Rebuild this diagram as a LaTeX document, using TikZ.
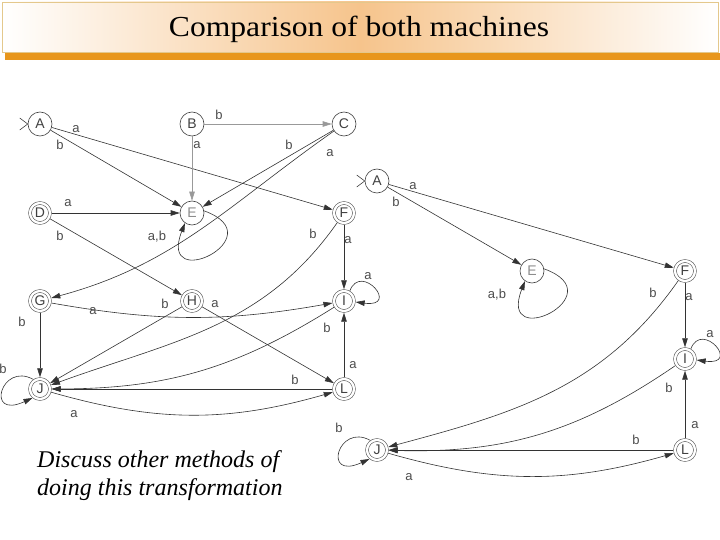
\documentclass[tikz,border=0pt]{standalone}
\usepackage{fontspec}
\setmainfont{Liberation Serif}
\setsansfont{Liberation Sans}
\usetikzlibrary{arrows.meta}
\definecolor{tbar}{RGB}{232,150,28}
\definecolor{tborder}{RGB}{228,200,140}
\definecolor{tglow}{RGB}{246,196,140}
\begin{document}
\begin{tikzpicture}[x=1pt,y=1pt,
  st/.style={circle,draw=black!75,line width=0.6pt,minimum size=24pt,inner sep=0pt,
    font=\sffamily\fontsize{14}{14}\selectfont,text=black!75},
  fs/.style={circle,draw=black!75,line width=0.5pt,double=white,double distance=2.4pt,
    minimum size=20pt,inner sep=0pt,outer sep=1.7pt,
    font=\sffamily\fontsize{14}{14}\selectfont,text=black!75},
  tr/.style={draw=black!80,line width=0.6pt,-{Triangle[length=9pt,width=5.5pt]}},
  lt/.style={tr,draw=black!40},
  lbl/.style={font=\sffamily\fontsize{13}{13}\selectfont,text=black!70,inner sep=0pt},
  initm/.style={draw=black!75,line width=0.6pt},
]
\useasboundingbox (0,0) rectangle (720,-540);
% title
\fill[tbar] (5,-53) rectangle (720,-60);
\shade[left color=white,right color=white,middle color=tglow] (2,-2) rectangle (718,-52);
\draw[tborder,line width=0.8pt] (2,-2) rectangle (718,-52);
\node[font=\fontsize{29}{29}\selectfont] (title) at (359,-29) {\scalebox{1.09}[1]{Comparison of both machines}};

% ---------- left machine ----------
\node[st] (A) at (40,-124) {A};
\node[st] (B) at (192,-124) {B};
\node[st] (C) at (344,-124) {C};
\node[fs] (D) at (40,-213) {D};
\node[st,text=black!45] (E) at (192,-213) {E};
\node[fs] (F) at (344,-213) {F};
\node[fs] (G) at (40,-301) {G};
\node[fs] (H) at (192,-301) {H};
\node[fs] (I) at (344,-301) {I};
\node[fs] (J) at (40,-389) {J};
\node[fs] (L) at (344,-389) {L};

\draw[initm] (A.west) -- ++(-8,6) (A.west) -- ++(-8,-6);

\draw[tr] (A) -- (E);
\draw[tr] (A) -- (F);
\draw[lt] (B) -- (C);
\draw[lt] (B) -- (E);
\draw[tr] (C) -- (E);
\draw[tr] (C) to[out=215,in=15] (G);
\draw[tr] (D) -- (E);
\draw[tr] (D) -- (H);
\draw[tr] (E.10) .. controls +(72,-26) and +(-28,-72) .. (E.235);
\draw[tr] (F) -- (I);
\draw[tr] (F) to[out=235,in=20] (J);
\draw[tr] (G) to[bend right=10] (I);
\draw[tr] (G) -- (J);
\draw[tr] (H) -- (J);
\draw[tr] (H) -- (L);
\draw[tr] (I.60) .. controls +(11,29) and +(45,-6) .. (I.-5);
\draw[tr] (I) to[bend left=16] (J);
\draw[tr] (L) -- (I);
\draw[tr] (L) -- (J);
\draw[tr] (J) to[bend right=16] (L);
\draw[tr] (J.125) .. controls +(-32,18) and +(-48,-22) .. (J.-130);

\node[lbl] (la1) at (76,-129) {a};
\node[lbl] (la2) at (60,-145) {b};
\node[lbl] (la3) at (219,-115) {b};
\node[lbl] (la4) at (197,-145) {a};
\node[lbl] (la5) at (289,-145) {b};
\node[lbl] (la6) at (330,-153) {a};
\node[lbl] (la7) at (68,-203) {a};
\node[lbl] (la8) at (60,-236) {b};
\node[lbl] (la9) at (157,-237) {a,b};
\node[lbl] (la10) at (313,-234) {b};
\node[lbl] (la11) at (348,-240) {a};
\node[lbl] (la12) at (368,-276) {a};
\node[lbl] (la13) at (165,-304) {b};
\node[lbl] (la14) at (215,-304) {a};
\node[lbl] (la15) at (93,-311) {a};
\node[lbl] (la16) at (22,-322) {b};
\node[lbl] (la17) at (327,-328) {b};
\node[lbl] (la18) at (353,-365) {a};
\node[lbl] (la19) at (295,-380) {b};
\node[lbl] (la20) at (3,-369) {b};
\node[lbl] (la21) at (74,-414) {a};

% ---------- right machine ----------
\node[st] (A2) at (377,-181) {A};
\node[st,text=black!45] (E2) at (532,-271) {E};
\node[fs] (F2) at (685,-271) {F};
\node[fs] (I2) at (685,-359) {I};
\node[fs] (J2) at (377,-450) {J};
\node[fs] (L2) at (685,-450) {L};

\draw[initm] (A2.west) -- ++(-8,6) (A2.west) -- ++(-8,-6);

\draw[tr] (A2) -- (E2);
\draw[tr] (A2) -- (F2);
\draw[tr] (E2.10) .. controls +(72,-26) and +(-28,-72) .. (E2.235);
\draw[tr] (F2) -- (I2);
\draw[tr] (F2) to[out=235,in=15] (J2);
\draw[tr] (I2.60) .. controls +(11,29) and +(45,-6) .. (I2.-5);
\draw[tr] (I2) to[bend left=18] (J2);
\draw[tr] (L2) -- (I2);
\draw[tr] (L2) -- (J2);
\draw[tr] (J2) to[bend right=16] (L2);
\draw[tr] (J2.125) .. controls +(-32,18) and +(-48,-22) .. (J2.-130);

\node[lbl] (lb1) at (413,-186) {a};
\node[lbl] (lb2) at (396,-202) {b};
\node[lbl] (lb3) at (497,-295) {a,b};
\node[lbl] (lb4) at (653,-293) {b};
\node[lbl] (lb5) at (689,-297) {a};
\node[lbl] (lb6) at (710,-334) {a};
\node[lbl] (lb7) at (669,-388) {b};
\node[lbl] (lb8) at (695,-425) {a};
\node[lbl] (lb9) at (636,-440) {b};
\node[lbl] (lb10) at (339,-428) {b};
\node[lbl] (lb11) at (409,-477) {a};

% ---------- note ----------
\node[anchor=north west,align=left,inner sep=0pt,font=\itshape\fontsize{24}{28}\selectfont] (note) at (37,-450)
  {Discuss other methods of\\doing this transformation};
\end{tikzpicture}
\end{document}
